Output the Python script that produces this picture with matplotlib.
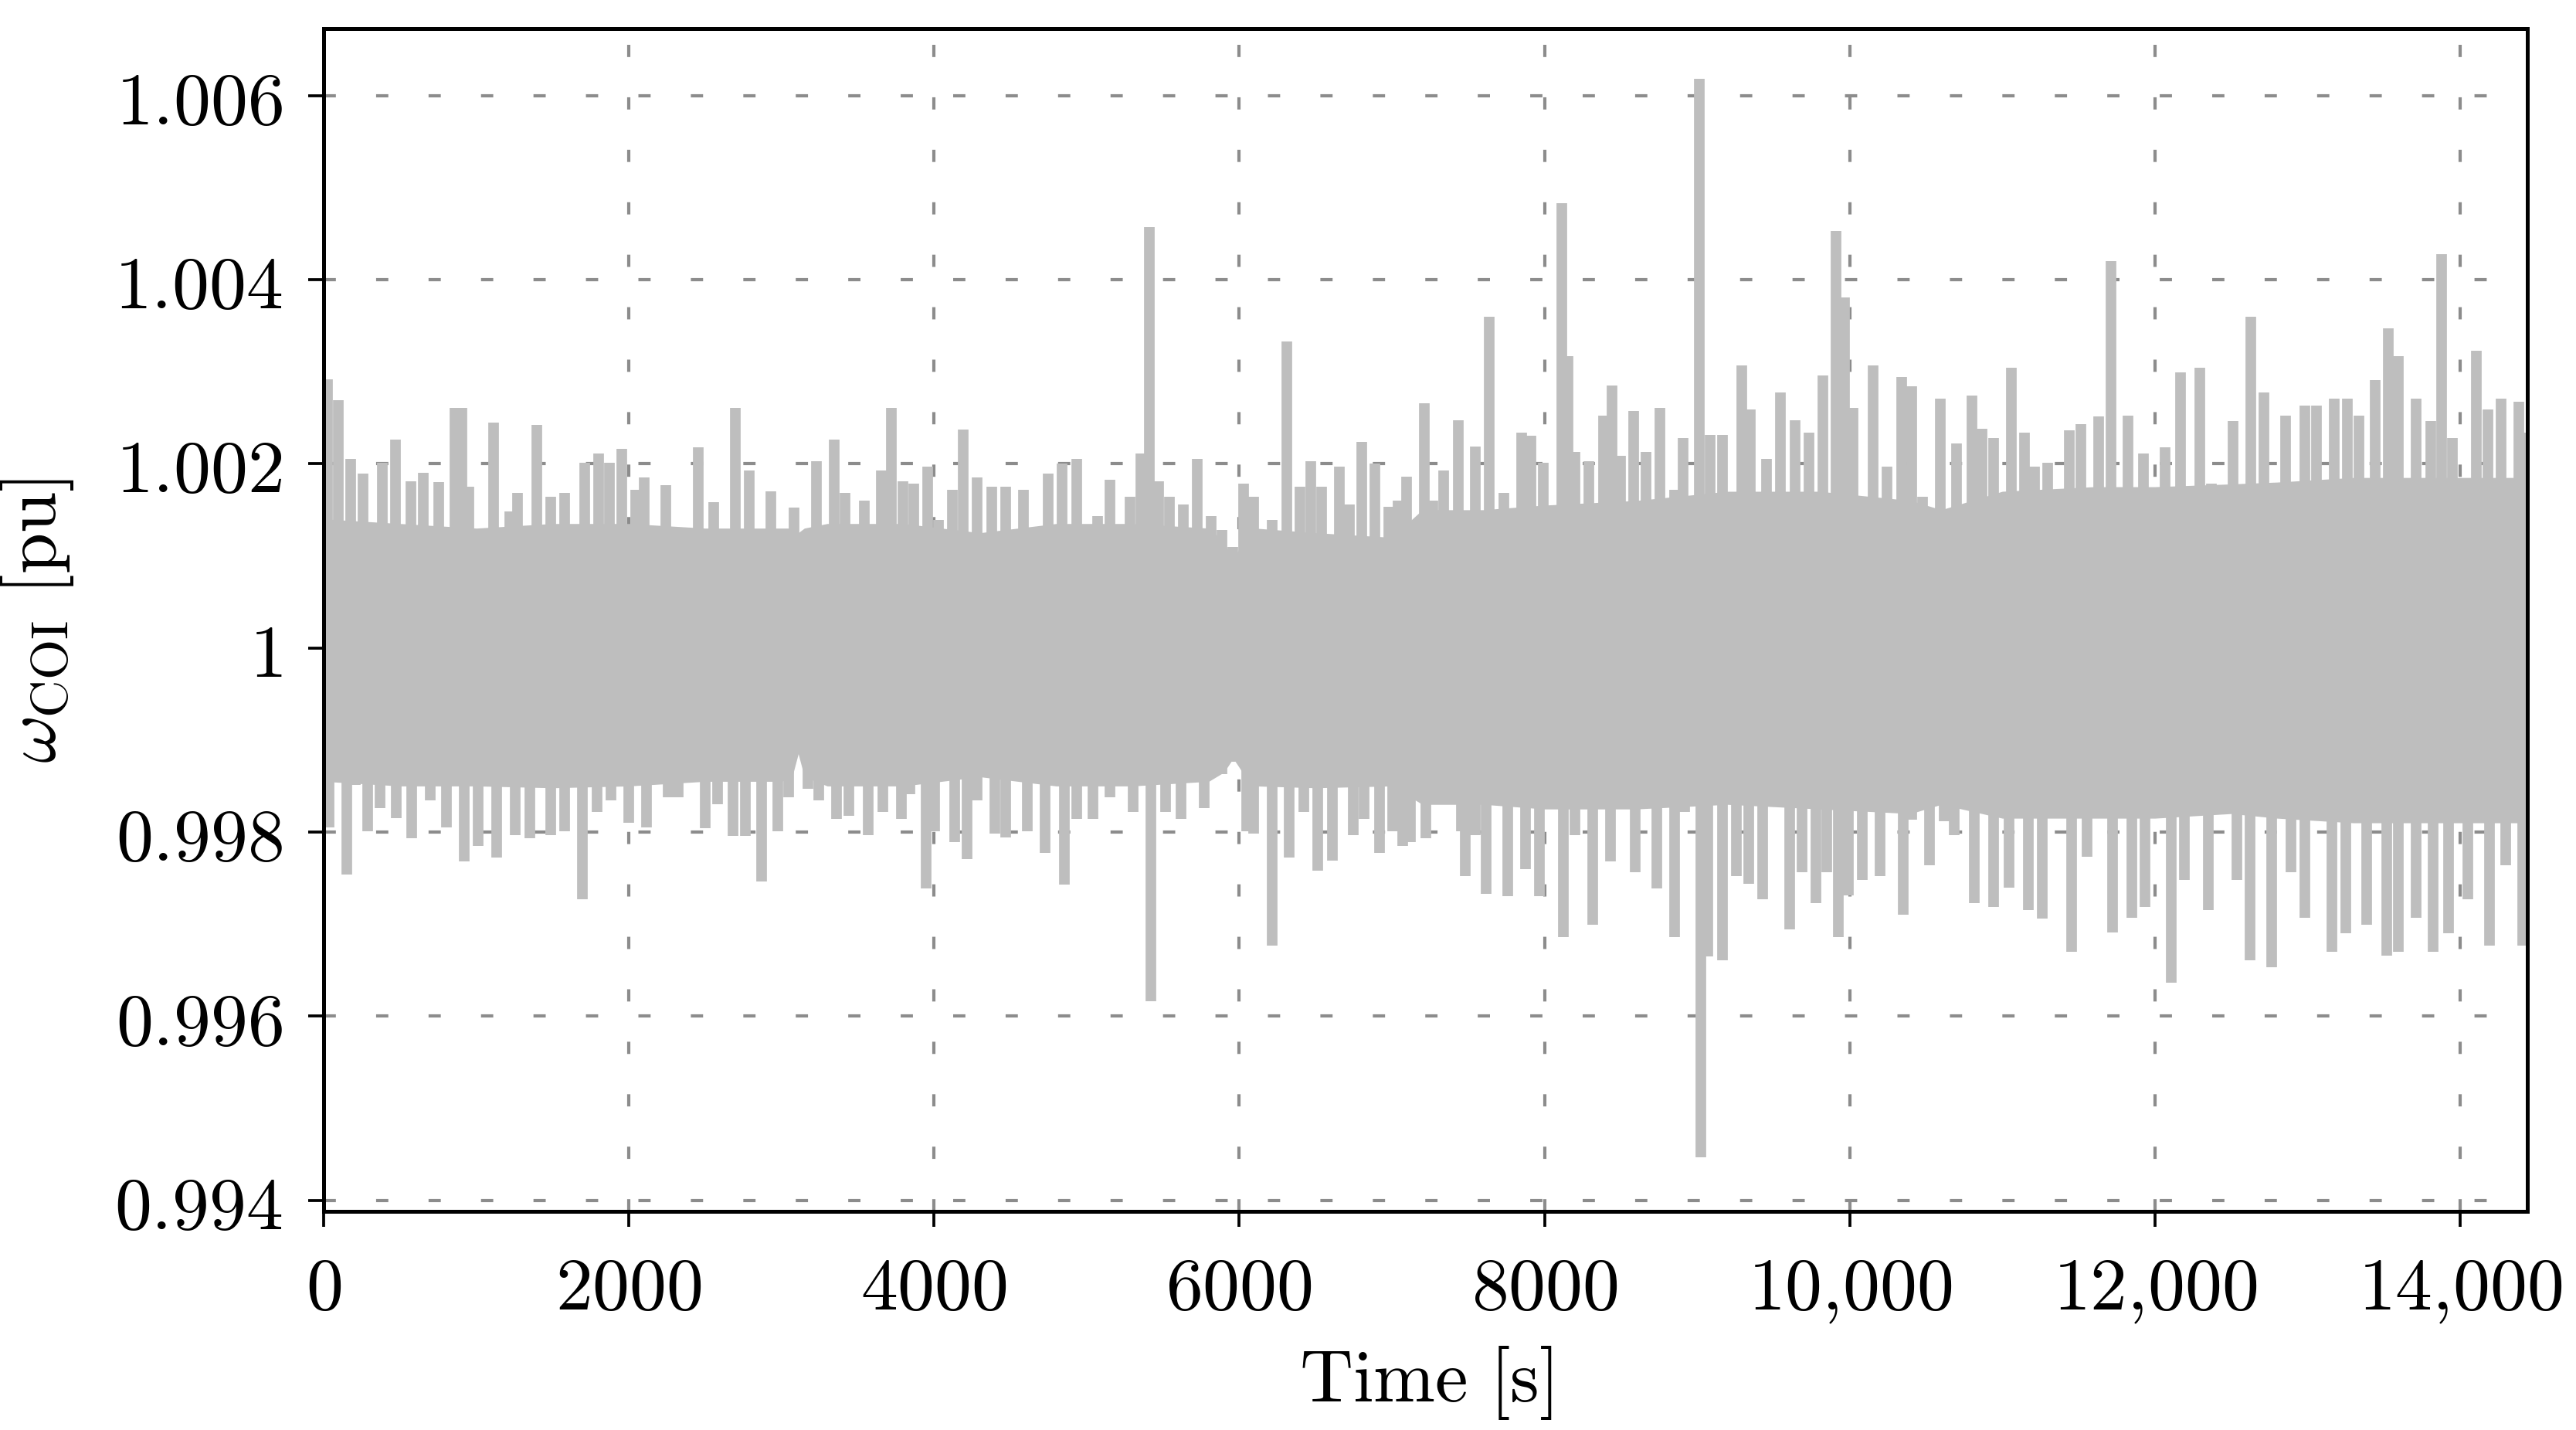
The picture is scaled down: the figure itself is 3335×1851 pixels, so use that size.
import numpy as np
import matplotlib.pyplot as plt
from matplotlib.ticker import FuncFormatter

plt.rcParams['mathtext.fontset'] = 'cm'
plt.rcParams['font.family'] = 'serif'
plt.rcParams['font.size'] = 23

# upper excursions of the COI speed (time [s], value [pu])
t_upper = [24, 94, 175, 257, 384, 470, 570, 651, 756, 860, 907, 954, 1116, 1221, 1270,
           1395, 1488, 1581, 1709, 1802, 1872, 1953, 2046, 2100, 2244, 2453, 2557, 2697,
           2790, 2929, 3080, 3231, 3347, 3417, 3545, 3656, 3721, 3796, 3865, 3958, 4028,
           4121, 4191, 4284, 4377, 4470, 4586, 4748, 4841, 4934, 5074, 5155, 5283, 5353,
           5411, 5469, 5540, 5632, 5725, 5818, 5887, 5957, 6027, 6096, 6213, 6310, 6399,
           6468, 6538, 6654, 6724, 6805, 6887, 6979, 7040, 7096, 7212, 7270, 7340, 7433,
           7549, 7637, 7735, 7851, 7910, 7990, 8111, 8153, 8200, 8292, 8385, 8444, 8500,
           8583, 8665, 8757, 8850, 8908, 9013, 9083, 9164, 9292, 9350, 9454, 9547, 9640,
           9733, 9826, 9908, 9966, 10024, 10152, 10245, 10338, 10408, 10477, 10593, 10700,
           10802, 10865, 10942, 11057, 11146, 11210, 11299, 11439, 11516, 11631, 11712,
           11822, 11924, 12064, 12166, 12294, 12370, 12510, 12630, 12714, 12855, 12982,
           13060, 13173, 13260, 13339, 13441, 13530, 13595, 13709, 13810, 13880, 13950,
           14104, 14180, 14270, 14385, 14440]
w_upper = [1.00292, 1.00269, 1.00205, 1.00189, 1.00201, 1.00226, 1.00181, 1.00190, 1.00180,
           1.00261, 1.00261, 1.00175, 1.00245, 1.00148, 1.00168, 1.00242, 1.00164, 1.00168,
           1.00201, 1.00211, 1.00201, 1.00216, 1.00172, 1.00185, 1.00177, 1.00218, 1.00158,
           1.00261, 1.00193, 1.00170, 1.00152, 1.00203, 1.00226, 1.00168, 1.00160, 1.00193,
           1.00261, 1.00181, 1.00178, 1.00197, 1.00139, 1.00172, 1.00237, 1.00185, 1.00175,
           1.00175, 1.00172, 1.00189, 1.00200, 1.00205, 1.00143, 1.00183, 1.00164, 1.00211,
           1.00457, 1.00181, 1.00164, 1.00156, 1.00205, 1.00143, 1.00128, 1.00110, 1.00178,
           1.00164, 1.00139, 1.00333, 1.00175, 1.00203, 1.00175, 1.00197, 1.00156, 1.00224,
           1.00200, 1.00153, 1.00160, 1.00186, 1.00266, 1.00160, 1.00193, 1.00247, 1.00219,
           1.00360, 1.00168, 1.00234, 1.00230, 1.00201, 1.00483, 1.00317, 1.00213, 1.00203,
           1.00252, 1.00285, 1.00209, 1.00257, 1.00213, 1.00261, 1.00172, 1.00228, 1.00618,
           1.00231, 1.00231, 1.00307, 1.00259, 1.00205, 1.00277, 1.00247, 1.00234, 1.00296,
           1.00453, 1.00381, 1.00261, 1.00307, 1.00197, 1.00294, 1.00284, 1.00164, 1.00271,
           1.00222, 1.00274, 1.00238, 1.00228, 1.00304, 1.00234, 1.00197, 1.00201, 1.00236,
           1.00243, 1.00251, 1.00420, 1.00252, 1.00211, 1.00218, 1.00299, 1.00304, 1.00178,
           1.00246, 1.00360, 1.00277, 1.00252, 1.00263, 1.00263, 1.00271, 1.00271, 1.00252,
           1.00291, 1.00347, 1.00317, 1.00271, 1.00246, 1.00428, 1.00228, 1.00323, 1.00259,
           1.00271, 1.00267, 1.00234]

# lower excursions
t_lower = [0, 36, 152, 210, 291, 370, 477, 577, 698, 803, 919, 1012, 1135, 1256, 1349,
           1488, 1581, 1697, 1790, 1883, 2000, 2116, 2255, 2325, 2499, 2580, 2685, 2765,
           2871, 2976, 3046, 3115, 3175, 3243, 3359, 3440, 3568, 3663, 3784, 3842, 3947,
           4005, 4133, 4214, 4284, 4400, 4470, 4609, 4725, 4853, 4934, 5039, 5155, 5306,
           5422, 5515, 5620, 5771, 5887, 5957, 6050, 6096, 6213, 6329, 6422, 6515, 6608,
           6747, 6817, 6921, 7003, 7072, 7120, 7223, 7340, 7456, 7479, 7549, 7618, 7758,
           7874, 7967, 8060, 8125, 8200, 8316, 8432, 8595, 8734, 8850, 8920, 9024, 9071,
           9164, 9257, 9340, 9431, 9501, 9605, 9686, 9780, 9850, 9924, 9990, 10082, 10198,
           10349, 10407, 10523, 10620, 10687, 10815, 10942, 11044, 11172, 11261, 11350,
           11452, 11555, 11720, 11847, 11937, 12107, 12192, 12350, 12420, 12536, 12625,
           12765, 12893, 12982, 13161, 13250, 13390, 13518, 13595, 13709, 13824, 13926,
           14053, 14193, 14300, 14410]
w_lower = [0.99850, 0.99805, 0.99754, 0.99851, 0.99801, 0.99826, 0.99815, 0.99793, 0.99834,
           0.99805, 0.99768, 0.99785, 0.99772, 0.99797, 0.99793, 0.99797, 0.99801, 0.99727,
           0.99822, 0.99834, 0.99810, 0.99805, 0.99838, 0.99838, 0.99804, 0.99830, 0.99796,
           0.99796, 0.99746, 0.99801, 0.99838, 0.99888, 0.99847, 0.99834, 0.99814, 0.99818,
           0.99797, 0.99822, 0.99814, 0.99841, 0.99739, 0.99801, 0.99789, 0.99771, 0.99834,
           0.99798, 0.99794, 0.99801, 0.99777, 0.99743, 0.99814, 0.99814, 0.99838, 0.99822,
           0.99616, 0.99822, 0.99814, 0.99826, 0.99863, 0.99876, 0.99801, 0.99798, 0.99677,
           0.99772, 0.99822, 0.99758, 0.99769, 0.99797, 0.99814, 0.99777, 0.99801, 0.99785,
           0.99789, 0.99793, 0.99834, 0.99801, 0.99752, 0.99797, 0.99733, 0.99730, 0.99760,
           0.99730, 0.99838, 0.99686, 0.99797, 0.99699, 0.99768, 0.99756, 0.99739, 0.99686,
           0.99822, 0.99447, 0.99665, 0.99661, 0.99752, 0.99744, 0.99727, 0.99847, 0.99694,
           0.99756, 0.99723, 0.99756, 0.99686, 0.99731, 0.99748, 0.99752, 0.99710, 0.99813,
           0.99764, 0.99812, 0.99797, 0.99723, 0.99719, 0.99740, 0.99715, 0.99706, 0.99826,
           0.99670, 0.99773, 0.99691, 0.99707, 0.99719, 0.99636, 0.99748, 0.99715, 0.99851,
           0.99748, 0.99661, 0.99653, 0.99756, 0.99707, 0.99670, 0.99690, 0.99699, 0.99666,
           0.99670, 0.99707, 0.99670, 0.99690, 0.99727, 0.99677, 0.99764, 0.99677]

# edges of the solid band (where the fast oscillation covers everything)
t_core = [0, 500, 1000, 1500, 2000, 2500, 3000, 3070, 3110, 3150, 3300, 3800, 4300, 4800,
          5300, 5800, 5900, 5960, 6020, 6100, 6500, 7000, 7200, 7600, 8000, 8600, 9200,
          9800, 10400, 10600, 11000, 11600, 12000, 12500, 12800, 13300, 13800, 14440]
core_hi = [1.00140, 1.00135, 1.00130, 1.00135, 1.00135, 1.00130, 1.00130, 1.00130, 1.00125,
           1.00130, 1.00135, 1.00135, 1.00125, 1.00135, 1.00135, 1.00130, 1.00115, 1.00095,
           1.00115, 1.00130, 1.00125, 1.00120, 1.00150, 1.00150, 1.00155, 1.00160, 1.00170,
           1.00170, 1.00160, 1.00150, 1.00170, 1.00175, 1.00175, 1.00178, 1.00180, 1.00185,
           1.00185, 1.00185]
core_lo = [0.99855, 0.99850, 0.99850, 0.99848, 0.99850, 0.99855, 0.99855, 0.99860, 0.99885,
           0.99860, 0.99850, 0.99850, 0.99860, 0.99850, 0.99850, 0.99855, 0.99865, 0.99880,
           0.99865, 0.99850, 0.99848, 0.99850, 0.99830, 0.99830, 0.99825, 0.99825, 0.99830,
           0.99825, 0.99820, 0.99830, 0.99815, 0.99815, 0.99815, 0.99820, 0.99815, 0.99810,
           0.99810, 0.99810]

fig = plt.figure(figsize=(11.12, 6.173), dpi=300)
ax = fig.add_axes([0.1256, 0.1528, 0.8552, 0.827])

grey = '#bebebe'
ax.fill_between(t_core, core_lo, core_hi, color=grey, lw=0, zorder=2)
ax.vlines(t_upper, 1.0, w_upper, color=grey, lw=3.3, capstyle='butt', zorder=2)
ax.vlines(t_lower, w_lower, 1.0, color=grey, lw=3.3, capstyle='butt', zorder=2)

ax.set_xlim(0, 14440)
ax.set_ylim(0.99388, 1.00673)
ax.set_xticks(np.arange(0, 14001, 2000))
ax.set_yticks([0.994, 0.996, 0.998, 1.0, 1.002, 1.004, 1.006])


def xfmt(v, pos):
    v = int(round(v))
    if v >= 10000:
        return r'$%d{,}%03d$' % (v // 1000, v % 1000)
    return r'$%d$' % v


def yfmt(v, pos):
    s = ('%.3f' % v).rstrip('0').rstrip('.')
    return r'$%s$' % s


ax.xaxis.set_major_formatter(FuncFormatter(xfmt))
ax.yaxis.set_major_formatter(FuncFormatter(yfmt))

ax.grid(True, color='#8c8c8c', lw=1.0, linestyle=(0, (3.8, 12.5)), zorder=1)
ax.set_axisbelow(True)
ax.tick_params(direction='out', length=4.8, width=0.9, labelsize=23, pad=8)
for s in ax.spines.values():
    s.set_linewidth(1.2)

ax.set_xlabel(r'$\mathrm{Time\ [s]}$', fontsize=23, labelpad=6)
ax.set_ylabel(r'$\omega_{\mathrm{COI}}\ [\mathrm{pu}]$', fontsize=23, labelpad=12)

fig.savefig('out.png', dpi=300)
